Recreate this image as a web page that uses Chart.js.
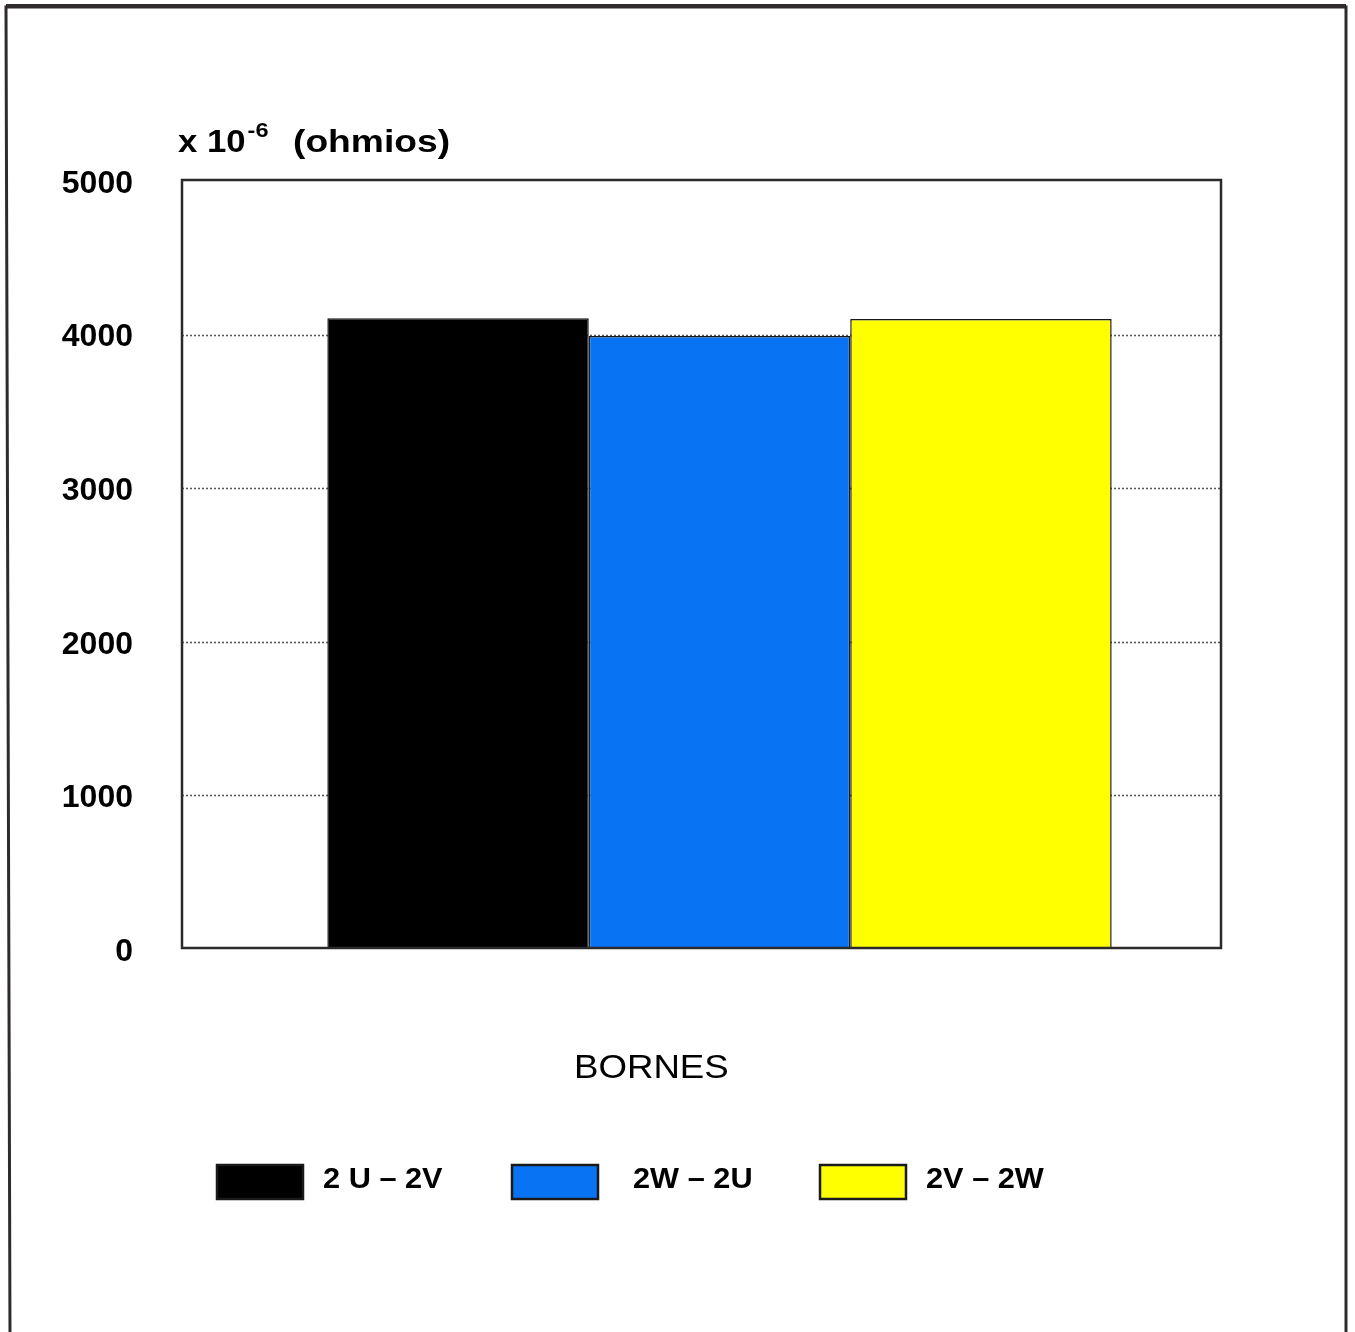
<!DOCTYPE html>
<html>
<head>
<meta charset="utf-8">
<script src="https://cdn.jsdelivr.net/npm/chart.js@4/dist/chart.umd.min.js"></script>
<style>
  html, body { margin: 0; padding: 0; background: #fff; }
  #wrap { width: 1355px; height: 1332px; position: relative; }
</style>
</head>
<body>
<div id="wrap"><canvas id="c" width="1355" height="1332"></canvas></div>
<script>
// Resistencia medida entre bornes (x 10^-6 ohmios)
const categories = [''];
const seriesLabels = ['2 U \u2013 2V', '2W \u2013 2U', '2V \u2013 2W'];
const seriesValues = [[4100], [3985], [4095]];
const seriesColors = ['#000000', '#0874F4', '#FFFF00'];
const yTicks = [0, 1000, 2000, 3000, 4000, 5000];
const axisUnit = 'x 10';
const axisExp = '-6';
const axisUnitName = '(ohmios)';
const xTitle = 'BORNES';

const FONT = '"Liberation Sans", Arial, sans-serif';
const FRAME_LEFT = 182;

// text drawn slightly wider than the font's natural width
function wideText(ctx, txt, x, y, sx) {
  ctx.save();
  ctx.translate(x, y);
  ctx.scale(sx, 1);
  ctx.fillText(txt, 0, 0);
  ctx.restore();
}

// Dotted value gridlines spanning the whole plot frame, under the bars
const dottedGrid = {
  id: 'dottedGrid',
  beforeDatasetsDraw(chart) {
    const ctx = chart.ctx;
    const y = chart.scales.y;
    const a = chart.chartArea;
    ctx.save();
    ctx.strokeStyle = '#5a5a5a';
    ctx.lineWidth = 1.6;
    ctx.setLineDash([2, 2]);
    yTicks.forEach(v => {
      if (v === y.min || v === y.max) return;
      const py = Math.round(y.getPixelForValue(v)) + 1.5;
      ctx.beginPath();
      ctx.moveTo(FRAME_LEFT, py);
      ctx.lineTo(a.right, py);
      ctx.stroke();
    });
    ctx.restore();
  }
};

// Page frame, plot frame, titles and legend
const decorations = {
  id: 'decorations',
  afterDatasetsDraw(chart) {
    const ctx = chart.ctx;
    const a = chart.chartArea;
    ctx.save();
    // plot frame
    ctx.strokeStyle = '#2a2a2a';
    ctx.lineWidth = 2.5;
    ctx.strokeRect(FRAME_LEFT, a.top, a.right - FRAME_LEFT, a.bottom - a.top);

    // outer frame
    ctx.strokeStyle = '#2e2a2e';
    ctx.lineWidth = 3;
    ctx.beginPath();
    ctx.moveTo(10, 1332);
    ctx.lineTo(6, 7);
    ctx.lineTo(1346, 7);
    ctx.lineTo(1346, 1332);
    ctx.stroke();
    ctx.lineWidth = 4;
    ctx.beginPath();
    ctx.moveTo(6, 6);
    ctx.lineTo(1346, 6);
    ctx.stroke();

    // unit label above the value axis
    ctx.fillStyle = '#000';
    ctx.textBaseline = 'alphabetic';
    ctx.textAlign = 'left';
    ctx.font = 'bold 31px ' + FONT;
    wideText(ctx, axisUnit, 178, 152, 1.12);
    const w = ctx.measureText(axisUnit).width * 1.12;
    ctx.font = 'bold 21px ' + FONT;
    wideText(ctx, axisExp, 178 + w + 2, 137, 1.12);
    ctx.font = 'bold 31px ' + FONT;
    wideText(ctx, axisUnitName, 293, 152, 1.2);

    // category axis title
    ctx.font = '33px ' + FONT;
    ctx.textAlign = 'left';
    wideText(ctx, xTitle, 574, 1078, 1.11);

    // legend
    const boxX = [217, 512, 820];
    const textX = [323, 633, 926];
    ctx.textBaseline = 'middle';
    chart.data.datasets.forEach((ds, i) => {
      ctx.fillStyle = ds.backgroundColor;
      ctx.fillRect(boxX[i], 1165, 86, 34);
      ctx.strokeStyle = '#1a1a1a';
      ctx.lineWidth = 2.5;
      ctx.strokeRect(boxX[i], 1165, 86, 34);
      ctx.fillStyle = '#000';
      ctx.font = 'bold 29px ' + FONT;
      wideText(ctx, ds.label, textX[i], 1180, 1.06);
    });
    ctx.restore();
  }
};

new Chart(document.getElementById('c'), {
  type: 'bar',
  data: {
    labels: categories,
    datasets: seriesLabels.map((lbl, i) => ({
      label: lbl,
      data: seriesValues[i],
      backgroundColor: seriesColors[i],
      borderColor: '#1a1a1a',
      borderWidth: 1.5,
      barPercentage: 1.0,
      categoryPercentage: 0.782
    }))
  },
  options: {
    responsive: false,
    animation: false,
    devicePixelRatio: 1,
    layout: { padding: { left: 0, top: 180, right: 134, bottom: 0 } },
    plugins: {
      legend: { display: false },
      title: { display: false },
      tooltip: { enabled: false }
    },
    scales: {
      x: {
        grid: { display: false },
        ticks: { display: false },
        border: { display: false },
        afterFit(scale) { scale.height = 384; }
      },
      y: {
        min: 0,
        max: 5000,
        afterBuildTicks(scale) { scale.ticks = yTicks.map(v => ({ value: v })); },
        afterFit(scale) { scale.width = 218; },
        border: { display: false },
        grid: { display: false, drawTicks: false },
        ticks: {
          padding: 85,
          labelOffset: 4,
          color: '#000',
          font: { family: FONT, size: 32, weight: 'bold' },
          callback: v => String(v)
        }
      }
    }
  },
  plugins: [dottedGrid, decorations]
});
</script>
</body>
</html>
